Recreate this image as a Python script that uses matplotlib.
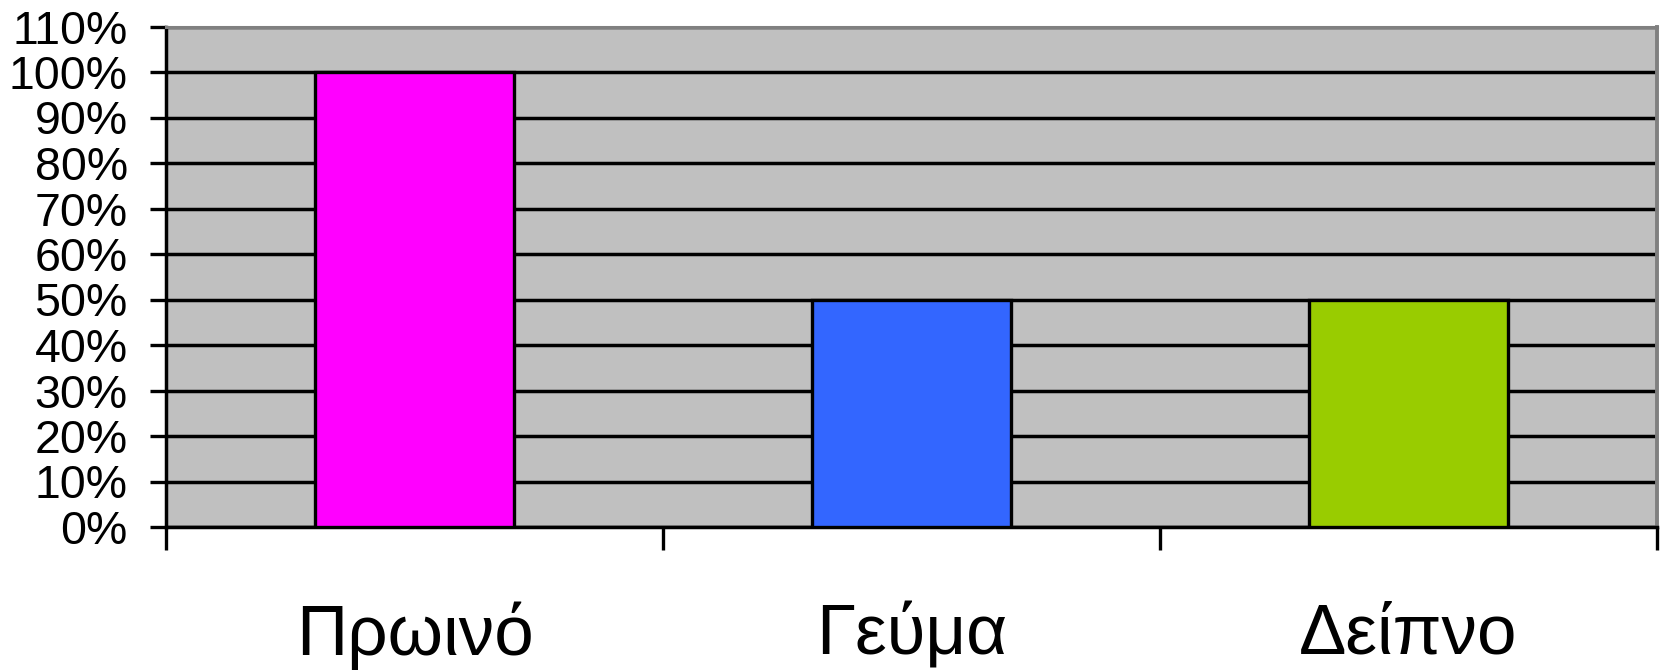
import numpy as np
import matplotlib
matplotlib.use("Agg")
import matplotlib.pyplot as plt

categories = ["Πρωινό", "Γεύμα", "Δείπνο"]
values = [100, 50, 50]
colors = ["#FF00FF", "#3366FF", "#99CC00"]
yticks = list(range(0, 111, 10))

plt.rcParams['font.family'] = ['Liberation Sans', 'DejaVu Sans']

fig = plt.figure(figsize=(16.69, 6.70), dpi=100)
ax = fig.add_axes([166 / 1669, 1 - 527 / 670, (1657 - 166) / 1669, (527 - 26.5) / 670])
ax.set_facecolor("#C0C0C0")

x = np.arange(len(categories))
ax.bar(x, values, width=0.40, color=colors, edgecolor="black", linewidth=2.4, zorder=3)

ax.set_xlim(-0.5, len(categories) - 0.5)
ax.set_ylim(0, 110)
ax.set_yticks(yticks)
ax.set_yticklabels([f"{v}%" for v in yticks], fontsize=33.5)
ax.yaxis.grid(True, color="black", linewidth=2.5, zorder=1)
ax.set_axisbelow(True)

ax.set_xticks(x)
ax.set_xticklabels(categories, fontsize=51)
ax.tick_params(axis="x", which="major", length=0, pad=54)
ax.set_xticks(np.arange(-0.5, len(categories)), minor=True)
ax.tick_params(axis="x", which="minor", length=16.5, width=2.4, color="black")
ax.tick_params(axis="y", length=11.5, width=2.4, pad=16)

for side in ["left", "bottom"]:
    ax.spines[side].set_color("black")
    ax.spines[side].set_linewidth(2.5)
ax.spines["top"].set_color("#808080")
ax.spines["top"].set_linewidth(2.2)
ax.spines["right"].set_color("#808080")
ax.spines["right"].set_linewidth(2.8)

fig.savefig("out.png", dpi=100)
